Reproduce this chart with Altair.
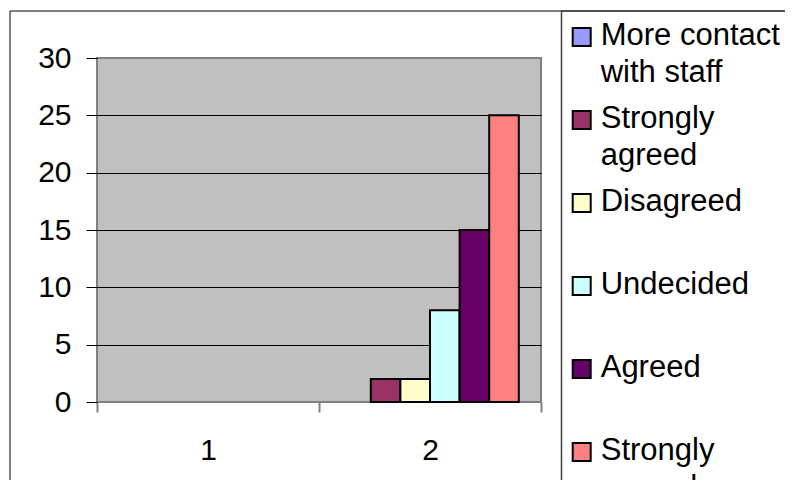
import altair as alt
import pandas as pd

# ---- data ----
categories = ["1", "2"]
series_labels = ["More contact\nwith staff", "Strongly\nagreed", "Disagreed",
                 "Undecided", "Agreed", "Strongly\nagreed"]
series_colors = ["#9999FF", "#993366", "#FFFFCC", "#CCFFFF", "#660066", "#FF8080"]
values_cat1 = [0, 0, 0, 0, 0, 0]
values_cat2 = [0, 2, 2, 8, 15, 25]
y_ticks = [0, 5, 10, 15, 20, 25, 30]

series_keys = [f"s{i}" for i in range(len(series_labels))]

rows = []
for cat, vals in zip(categories, [values_cat1, values_cat2]):
    for key, v in zip(series_keys, vals):
        rows.append({"cat": cat, "series": key, "value": v})
bars_df = pd.DataFrame(rows)

legend_df = pd.DataFrame({"series": series_keys,
                          "label": series_labels,
                          "idx": list(range(len(series_keys)))})

FONT = "Liberation Sans"
color_scale = alt.Scale(domain=series_keys, range=series_colors)

# ---- frame (chart border and legend box) ----
one = pd.DataFrame({"a": [0]})
outer = alt.Chart(one).mark_rect(fill="transparent", stroke="black", strokeWidth=1).encode(
    x=alt.value(-87), x2=alt.value(900), y=alt.value(-47), y2=alt.value(700))
legend_box = alt.Chart(one).mark_rect(fill="transparent", stroke="#404040", strokeWidth=1.5).encode(
    x=alt.value(464.5), x2=alt.value(900), y=alt.value(-47), y2=alt.value(700))

# ---- bars ----
bars = alt.Chart(bars_df).transform_filter("datum.value > 0").mark_bar(
    stroke="black", strokeWidth=2, opacity=1).encode(
    x=alt.X("cat:N", sort=categories, title=None,
            scale=alt.Scale(domain=categories, paddingInner=0, paddingOuter=0),
            axis=alt.Axis(labelAngle=0, tickBand="extent", domain=False,
                          tickColor="#808080", tickWidth=2, tickSize=10,
                          labelPadding=23, labelFontSize=30, labelFont=FONT,
                          labelColor="black", grid=False)),
    xOffset=alt.XOffset("series:N", sort=series_keys,
                        scale=alt.Scale(domain=series_keys, paddingInner=0, paddingOuter=0.75)),
    y=alt.Y("value:Q", title=None,
            scale=alt.Scale(domain=[0, 30], nice=False),
            axis=alt.Axis(values=y_ticks, domain=False, tickColor="black", tickSize=11,
                          labelPadding=15, labelFontSize=30, labelFont=FONT,
                          labelColor="black", grid=True, gridColor="black", gridWidth=1,
                          gridOpacity={"condition": {"test": "datum.value == 0 || datum.value == 30",
                                                     "value": 0}, "value": 1})),
    color=alt.Color("series:N", scale=color_scale, legend=None),
)

# ---- legend (drawn from the series arrays) ----
leg_y = alt.Y("idx:Q", scale=alt.Scale(domain=[0, 5], range=[-21, 394]), axis=None)
leg_sym = alt.Chart(legend_df).mark_square(size=324, stroke="black", strokeWidth=2, opacity=1).encode(
    x=alt.value(484.7), y=leg_y,
    color=alt.Color("series:N", scale=color_scale, legend=None))
leg_txt = alt.Chart(legend_df).mark_text(
    align="left", baseline="alphabetic", dy=8, fontSize=31, lineHeight=37,
    lineBreak="\n", font=FONT, color="black").encode(
    x=alt.value(503.7), y=leg_y, text="label:N")

chart = alt.layer(outer, legend_box, bars, leg_sym, leg_txt).resolve_scale(
    y="independent"
).properties(
    width=444, height=344,
    background="white",
    autosize=alt.AutoSizeParams(type="none"),
    padding={"left": 89, "top": 50, "right": 244, "bottom": 78},
).configure_view(
    fill="#C0C0C0", stroke="#808080", strokeWidth=2
)

chart.save("out.html", embed_options={"renderer": "svg", "actions": False})
